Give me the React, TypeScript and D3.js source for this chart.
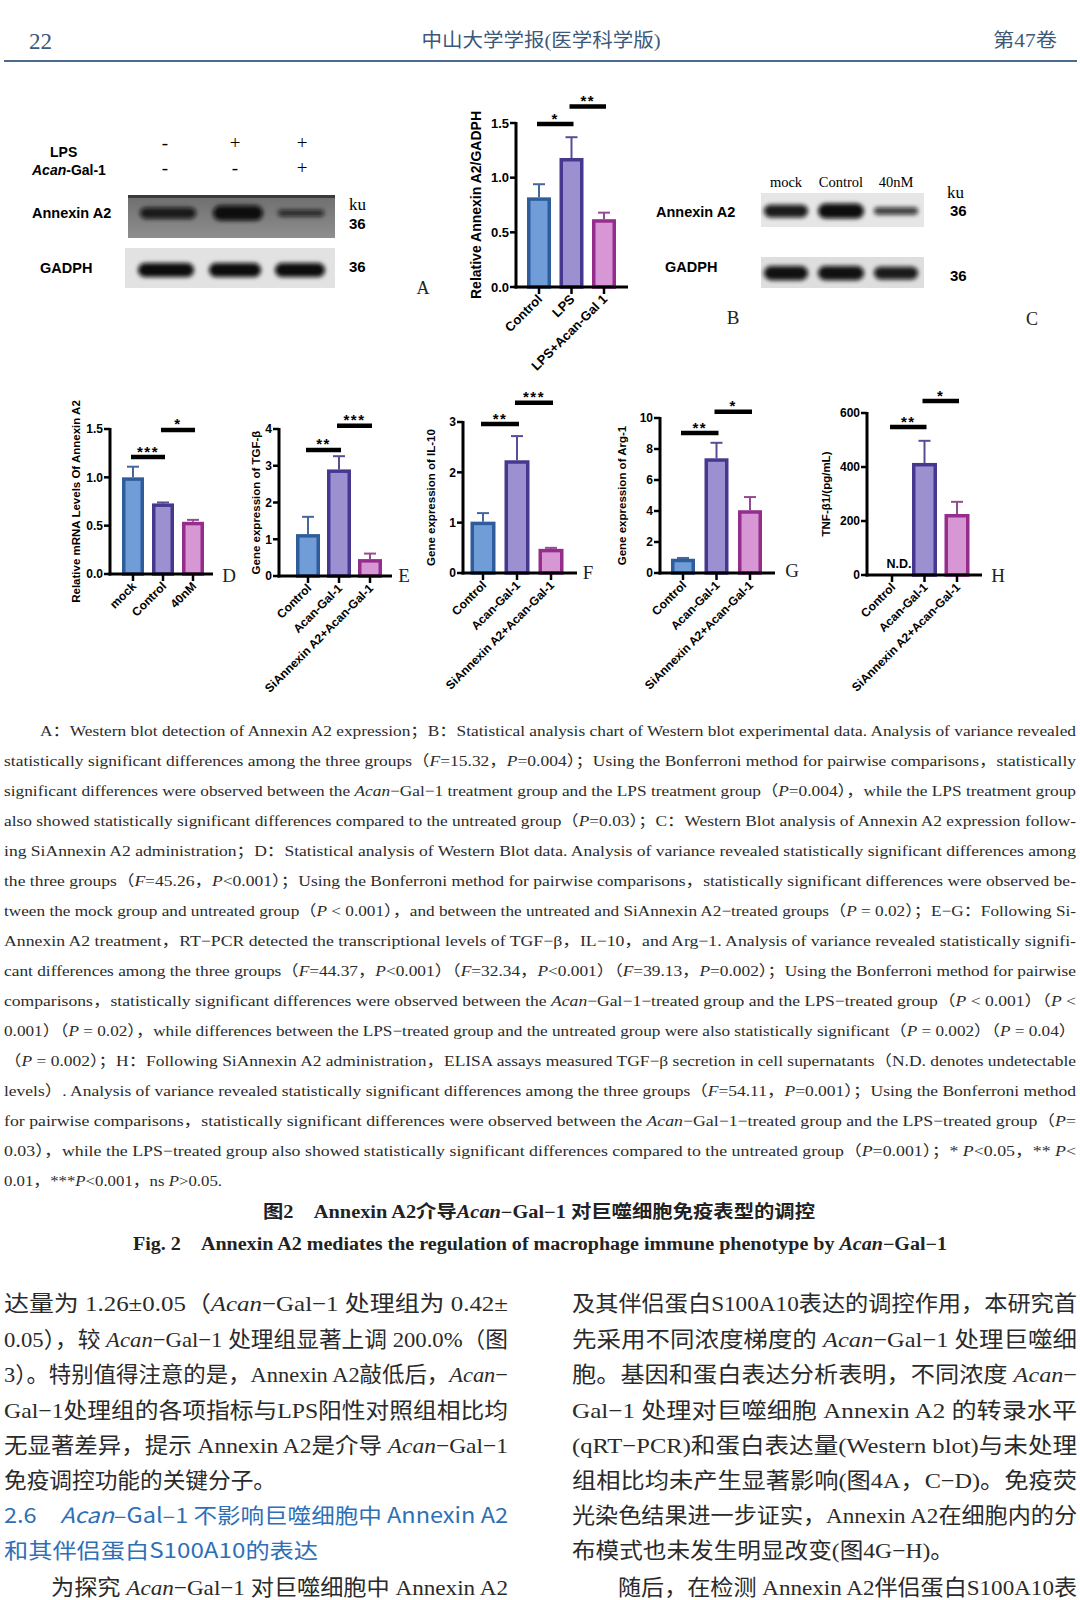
import React from "react";
import * as d3 from "d3";

// ---------------- DATA ----------------
const catsB = ["Control", "LPS", "LPS+Acan-Gal 1"];
const meanB = [0.82, 1.18, 0.62];
const sdB = [0.12, 0.19, 0.06];
const ticksB = [0, 0.5, 1.0, 1.5];
const sigB = [
  { a: 0, b: 1, y: 1.49, label: "*" },
  { a: 1, b: 2, y: 1.65, label: "**" },
];

const catsD = ["mock", "Control", "40nM"];
const meanD = [1.0, 0.73, 0.54];
const sdD = [0.11, 0.01, 0.02];
const ticksD = [0, 0.5, 1.0, 1.5];
const sigD = [
  { a: 0, b: 1, y: 1.21, label: "***" },
  { a: 1, b: 2, y: 1.49, label: "*" },
];

const catsEH = ["Control", "Acan-Gal-1", "SiAnnexin A2+Acan-Gal-1"];

const meanE = [1.14, 2.9, 0.46];
const sdE = [0.47, 0.36, 0.15];
const ticksE = [0, 1, 2, 3, 4];
const sigE = [
  { a: 0, b: 1, y: 3.43, label: "**" },
  { a: 1, b: 2, y: 4.09, label: "***" },
];

const meanF = [1.02, 2.24, 0.48];
const sdF = [0.17, 0.48, 0.02];
const ticksF = [0, 1, 2, 3];
const sigF = [
  { a: 0, b: 1, y: 2.96, label: "**" },
  { a: 1, b: 2, y: 3.38, label: "***" },
];

const meanG = [0.92, 7.4, 4.05];
const sdG = [0.05, 1.0, 0.85];
const ticksG = [0, 2, 4, 6, 8, 10];
const sigG = [
  { a: 0, b: 1, y: 9.03, label: "**" },
  { a: 1, b: 2, y: 10.4, label: "*" },
];

const meanH: (number | null)[] = [null, 415, 226];
const sdH = [0, 82, 45];
const ticksH = [0, 200, 400, 600];
const sigH = [
  { a: 0, b: 1, y: 548, label: "**" },
  { a: 1, b: 2, y: 644, label: "*" },
];

const lpsSigns = ["-", "+", "+"];
const acanSigns = ["-", "-", "+"];
const blotAAnnexin = [0.75, 1.0, 0.45];
const blotAGadph = [1.0, 1.0, 1.0];
const blotCLabels = ["mock", "Control", "40nM"];
const blotCAnnexin = [0.85, 1.0, 0.5];
const blotCGadph = [0.95, 0.95, 0.85];

const captionLines = [
  "A：Western blot detection of Annexin A2 expression；B：Statistical analysis chart of Western blot experimental data. Analysis of variance revealed",
  "statistically significant differences among the three groups（|F|=15.32，|P|=0.004）；Using the Bonferroni method for pairwise comparisons，statistically",
  "significant differences were observed between the |Acan|−Gal−1 treatment group and the LPS treatment group（|P|=0.004），while the LPS treatment group",
  "also showed statistically significant differences compared to the untreated group（|P|=0.03）；C：Western Blot analysis of Annexin A2 expression follow-",
  "ing SiAnnexin A2 administration；D：Statistical analysis of Western Blot data. Analysis of variance revealed statistically significant differences among",
  "the three groups（|F|=45.26，|P|<0.001）；Using the Bonferroni method for pairwise comparisons，statistically significant differences were observed be-",
  "tween the mock group and untreated group（|P| < 0.001），and between the untreated and SiAnnexin A2−treated groups（|P| = 0.02）；E−G：Following Si-",
  "Annexin A2 treatment，RT−PCR detected the transcriptional levels of TGF−β，IL−10，and Arg−1. Analysis of variance revealed statistically signifi-",
  "cant differences among the three groups（|F|=44.37，|P|<0.001）（|F|=32.34，|P|<0.001）（|F|=39.13，|P|=0.002）；Using the Bonferroni method for pairwise",
  "comparisons，statistically significant differences were observed between the |Acan|−Gal−1−treated group and the LPS−treated group（|P| < 0.001）（|P| <",
  "0.001）（|P| = 0.02），while differences between the LPS−treated group and the untreated group were also statistically significant（|P| = 0.002）（|P| = 0.04）",
  "（|P| = 0.002）；H：Following SiAnnexin A2 administration，ELISA assays measured TGF−β secretion in cell supernatants（N.D. denotes undetectable",
  "levels）. Analysis of variance revealed statistically significant differences among the three groups（|F|=54.11，|P|=0.001）；Using the Bonferroni method",
  "for pairwise comparisons，statistically significant differences were observed between the |Acan|−Gal−1−treated group and the LPS−treated group（|P|=",
  "0.03），while the LPS−treated group also showed statistically significant differences compared to the untreated group（|P|=0.001）；* |P|<0.05，** |P|<",
  "0.01，***|P|<0.001，ns |P|>0.05.",
];

const titleCN = "图2　Annexin A2介导|Acan|−Gal−1 对巨噬细胞免疫表型的调控";
const titleEN = "Fig. 2　Annexin A2 mediates the regulation of macrophage immune phenotype by |Acan|−Gal−1";

const leftCol = [
  "达量为 1.26±0.05（|Acan|−Gal−1 处理组为 0.42±",
  "0.05），较 |Acan|−Gal−1 处理组显著上调 200.0%（图",
  "3）。特别值得注意的是，Annexin A2敲低后，|Acan|−",
  "Gal−1处理组的各项指标与LPS阳性对照组相比均",
  "无显著差异，提示 Annexin A2是介导 |Acan|−Gal−1",
  "免疫调控功能的关键分子。",
];
const headingLines = ["2.6　|Acan|–Gal–1 不影响巨噬细胞中 Annexin A2", "和其伴侣蛋白S100A10的表达"];
const leftLast = "为探究 |Acan|−Gal−1 对巨噬细胞中 Annexin A2";
const rightCol = [
  "及其伴侣蛋白S100A10表达的调控作用，本研究首",
  "先采用不同浓度梯度的 |Acan|−Gal−1 处理巨噬细",
  "胞。基因和蛋白表达分析表明，不同浓度 |Acan|−",
  "Gal−1 处理对巨噬细胞 Annexin A2 的转录水平",
  "(qRT−PCR)和蛋白表达量(Western blot)与未处理",
  "组相比均未产生显著影响(图4A，C−D)。免疫荧",
  "光染色结果进一步证实，Annexin A2在细胞内的分",
  "布模式也未发生明显改变(图4G−H)。",
  "随后，在检测 Annexin A2伴侣蛋白S100A10表",
];

// ---------------- STYLES ----------------
const BAR_STYLES = [
  { fill: "#709cd8", stroke: "#2f5d9c", err: "#46679e" },
  { fill: "#9c90d0", stroke: "#47388f", err: "#5a4c98" },
  { fill: "#d796d4", stroke: "#952d8c", err: "#964a92" },
];
const SANS = "Arial, 'Liberation Sans', Helvetica, sans-serif";
const SERIF = "'Liberation Serif', 'Times New Roman', 'Noto Sans CJK SC', serif";
const CJK = "'Liberation Serif', 'Noto Sans CJK SC', serif";

function rich(s: string) {
  return s.split("|").map((p, i) =>
    i % 2 ? (
      <tspan key={i} fontStyle="italic">
        {p}
      </tspan>
    ) : (
      <tspan key={i}>{p}</tspan>
    )
  );
}

type Sig = { a: number; b: number; y: number; label: string };
type Layout = {
  axisX: number; y0: number; y1: number; c0: number; step: number; axisEnd: number;
  bw: number; cap: number; ylabelX: number; tickFs: number; labFs: number; ylFs: number; letter: string; lx: number; ly: number;
};

function BarPanel({ cats, means, sds, sig, yMax, ticks, fmt, ylabel, L, nd }: {
  cats: string[]; means: (number | null)[]; sds: number[]; sig: Sig[]; yMax: number; ticks: number[];
  fmt: (v: number) => string; ylabel: string; L: Layout; nd?: boolean;
}) {
  const y = d3.scaleLinear().domain([0, yMax]).range([L.y0, L.y1]);
  const x = d3.scalePoint<string>().domain(cats).range([L.c0, L.c0 + L.step * (cats.length - 1)]);
  const sw = 3.5;
  return (
    <g>
      {cats.map((c, i) => {
        const m = means[i];
        if (m == null) return null;
        const st = BAR_STYLES[i];
        const cx = x(c)!;
        const top = y(m);
        const et = y(m + sds[i]);
        return (
          <g key={c}>
            <line x1={cx} x2={cx} y1={top} y2={et} stroke={st.err} strokeWidth={2} />
            <line x1={cx - L.cap} x2={cx + L.cap} y1={et} y2={et} stroke={st.err} strokeWidth={2} />
            <rect x={cx - L.bw / 2 + sw / 2} y={top + sw / 2} width={L.bw - sw} height={L.y0 - top - sw / 2}
              fill={st.fill} stroke={st.stroke} strokeWidth={sw} />
          </g>
        );
      })}
      {nd && (
        <text x={x(cats[0])! + 7} y={L.y0 - 7} textAnchor="middle" fontFamily={SANS} fontWeight="bold" fontSize={12.5}>N.D.</text>
      )}
      {/* y axis */}
      <line x1={L.axisX} x2={L.axisX} y1={L.y1 - 1} y2={L.y0 + 1.5} stroke="#000" strokeWidth={3} />
      {ticks.map((t) => (
        <g key={t}>
          <line x1={L.axisX - 6} x2={L.axisX} y1={y(t)} y2={y(t)} stroke="#000" strokeWidth={2.5} />
          <text x={L.axisX - 7} y={y(t)} dy="0.36em" textAnchor="end" fontFamily={SANS} fontWeight="bold" fontSize={L.tickFs}>{fmt(t)}</text>
        </g>
      ))}
      {/* x axis */}
      <line x1={L.axisX - 1.5} x2={L.axisEnd} y1={L.y0} y2={L.y0} stroke="#000" strokeWidth={3} />
      {cats.map((c) => (
        <g key={c}>
          <line x1={x(c)!} x2={x(c)!} y1={L.y0} y2={L.y0 + 7} stroke="#000" strokeWidth={2.5} />
          <text transform={`translate(${x(c)! + 4},${L.y0 + 13}) rotate(-45)`} textAnchor="end" fontFamily={SANS}
            fontWeight="bold" fontSize={L.labFs}>{c}</text>
        </g>
      ))}
      {/* y label */}
      <text transform={`translate(${L.ylabelX},${(L.y0 + L.y1) / 2}) rotate(-90)`} textAnchor="middle" dy="0.35em"
        fontFamily={SANS} fontWeight="bold" fontSize={L.ylFs}>{ylabel}</text>
      {/* significance */}
      {sig.map((s, i) => {
        const xa = x(cats[s.a])! - 2;
        const xb = x(cats[s.b])! + 2;
        return (
          <g key={i}>
            <line x1={xa} x2={xb} y1={y(s.y)} y2={y(s.y)} stroke="#000" strokeWidth={4.5} />
            <text x={(xa + xb) / 2} y={y(s.y) - 0.5} textAnchor="middle" fontFamily={SANS} fontWeight="bold" fontSize={15}
              letterSpacing={1.5}>{s.label}</text>
          </g>
        );
      })}
      <text x={L.lx} y={L.ly} dy="0.35em" textAnchor="middle" fontFamily={SERIF} fontSize={19} fill="#222">{L.letter}</text>
    </g>
  );
}

function Blot({ x, y, w, h, bg, edge, lanes, intens, cy, bh }: {
  x: number; y: number; w: number; h: number; bg: string; edge?: string; lanes: [number, number][]; intens: number[]; cy: number; bh: number;
}) {
  return (
    <g>
      <rect x={x} y={y} width={w} height={h} fill={bg} />
      {edge && <rect x={x} y={y} width={w} height={3} fill={edge} />}
      {lanes.map(([cx, lw], i) => (
        <rect key={i} x={cx - lw / 2} y={cy - (bh * intens[i]) / 2} width={lw} height={bh * intens[i]} rx={(bh * intens[i]) / 2}
          fill="#080808" opacity={0.55 + 0.45 * intens[i]} filter="url(#bandBlur)" />
      ))}
    </g>
  );
}

export default function App() {
  const fmt1 = d3.format(".1f");
  const fmt0 = d3.format("d");
  const laneA: [number, number][] = [[168, 56], [238, 50], [301, 46]];
  const laneAG: [number, number][] = [[166, 56], [235, 52], [300, 50]];
  const laneC: [number, number][] = [[786, 44], [841, 46], [896, 44]];
  const capLine0 = 736;
  const capStep = 30;
  const bodyY = [1311, 1347, 1382, 1418, 1453, 1488, 1523, 1558, 1595];
  const smallL = { tickFs: 12, labFs: 12, ylFs: 11.5 };
  return (
    <svg width={1080} height={1600} viewBox="0 0 1080 1600" style={{ position: "absolute", left: 0, top: 0, background: "#fff" }}>
      <defs>
        <filter id="bandBlur" x="-30%" y="-80%" width="160%" height="260%">
          <feGaussianBlur stdDeviation="2" />
        </filter>
        <linearGradient id="gA" x1="0" y1="0" x2="0" y2="1">
          <stop offset="0" stopColor="#6e6e6e" />
          <stop offset="1" stopColor="#8e8e8e" />
        </linearGradient>
      </defs>
      <rect width={1080} height={1600} fill="#fff" />

      {/* header */}
      <text x={29} y={49} fontFamily={SERIF} fontSize={23} fill="#3d5878">22</text>
      <text x={541} y={47} textAnchor="middle" fontFamily={CJK} fontSize={19} fill="#3d5878" textLength={239} lengthAdjust="spacingAndGlyphs">中山大学学报(医学科学版)</text>
      <text x={1057} y={47} textAnchor="end" fontFamily={CJK} fontSize={19} fill="#3d5878" textLength={64} lengthAdjust="spacingAndGlyphs">第47卷</text>
      <line x1={4} x2={1077} y1={61} y2={61} stroke="#4b6a8c" strokeWidth={2} />

      {/* Panel A */}
      <text x={50} y={157} fontFamily={SANS} fontWeight="bold" fontSize={14}>LPS</text>
      <text x={32} y={175} fontFamily={SANS} fontWeight="bold" fontSize={14}><tspan fontStyle="italic">Acan</tspan>-Gal-1</text>
      {lpsSigns.map((s, i) => (
        <text key={"l" + i} x={[165, 235, 302][i]} y={149} textAnchor="middle" fontFamily={SERIF} fontSize={19}>{s}</text>
      ))}
      {acanSigns.map((s, i) => (
        <text key={"a" + i} x={[165, 235, 302][i]} y={174} textAnchor="middle" fontFamily={SERIF} fontSize={19}>{s}</text>
      ))}
      <Blot x={128} y={195} w={207} h={43} bg="url(#gA)" edge="#3a3a3a" lanes={laneA} intens={blotAAnnexin} cy={213} bh={15} />
      <Blot x={125} y={248} w={210} h={40} bg="#e2e2e2" lanes={laneAG} intens={blotAGadph} cy={270} bh={14} />
      <text x={32} y={218} fontFamily={SANS} fontWeight="bold" fontSize={14.5}>Annexin A2</text>
      <text x={40} y={273} fontFamily={SANS} fontWeight="bold" fontSize={14.5}>GADPH</text>
      <text x={349} y={210} fontFamily={SERIF} fontSize={17}>ku</text>
      <text x={349} y={229} fontFamily={SANS} fontWeight="bold" fontSize={15}>36</text>
      <text x={349} y={272} fontFamily={SANS} fontWeight="bold" fontSize={15}>36</text>
      <text x={423} y={294} textAnchor="middle" fontFamily={SERIF} fontSize={18} fill="#222">A</text>

      {/* Panel B */}
      <BarPanel cats={catsB} means={meanB} sds={sdB} sig={sigB} yMax={1.5} ticks={ticksB} fmt={fmt1}
        ylabel="Relative Annexin A2/GADPH"
        L={{ axisX: 516, y0: 287, y1: 123, c0: 539, step: 32.5, axisEnd: 628, bw: 24, cap: 6, ylabelX: 476, tickFs: 13, labFs: 13, ylFs: 14, letter: "B", lx: 733, ly: 317 }} />

      {/* Panel C */}
      {blotCLabels.map((s, i) => (
        <text key={s} x={laneC[i][0]} y={187} textAnchor="middle" fontFamily={SERIF} fontSize={14.5}>{s}</text>
      ))}
      <Blot x={761} y={193} w={163} h={34} bg="#e6e6e6" lanes={laneC} intens={blotCAnnexin} cy={211} bh={15} />
      <Blot x={761} y={257} w={163} h={31} bg="#dedede" lanes={laneC} intens={blotCGadph} cy={273} bh={15} />
      <text x={656} y={217} fontFamily={SANS} fontWeight="bold" fontSize={14.5}>Annexin A2</text>
      <text x={665} y={272} fontFamily={SANS} fontWeight="bold" fontSize={14.5}>GADPH</text>
      <text x={947} y={198} fontFamily={SERIF} fontSize={17}>ku</text>
      <text x={950} y={216} fontFamily={SANS} fontWeight="bold" fontSize={15}>36</text>
      <text x={950} y={281} fontFamily={SANS} fontWeight="bold" fontSize={15}>36</text>
      <text x={1032} y={325} textAnchor="middle" fontFamily={SERIF} fontSize={18} fill="#222">C</text>

      {/* Panels D-H */}
      <BarPanel cats={catsD} means={meanD} sds={sdD} sig={sigD} yMax={1.5} ticks={ticksD} fmt={fmt1}
        ylabel="Relative mRNA Levels Of Annexin A2"
        L={{ axisX: 110, y0: 574, y1: 429, c0: 133, step: 30, axisEnd: 213, bw: 22, cap: 6, ylabelX: 76, ...smallL, letter: "D", lx: 229, ly: 575 }} />
      <BarPanel cats={catsEH} means={meanE} sds={sdE} sig={sigE} yMax={4} ticks={ticksE} fmt={fmt0}
        ylabel="Gene expression of TGF-β"
        L={{ axisX: 279, y0: 576, y1: 429, c0: 308, step: 31, axisEnd: 392, bw: 24, cap: 6, ylabelX: 256, ...smallL, letter: "E", lx: 404, ly: 575 }} />
      <BarPanel cats={catsEH} means={meanF} sds={sdF} sig={sigF} yMax={3} ticks={ticksF} fmt={fmt0}
        ylabel="Gene expression of IL-10"
        L={{ axisX: 463, y0: 573, y1: 422, c0: 483, step: 34, axisEnd: 577, bw: 25, cap: 6, ylabelX: 431, ...smallL, letter: "F", lx: 588, ly: 572 }} />
      <BarPanel cats={catsEH} means={meanG} sds={sdG} sig={sigG} yMax={10} ticks={ticksG} fmt={fmt0}
        ylabel="Gene expression of Arg-1"
        L={{ axisX: 660, y0: 573, y1: 418, c0: 683, step: 33.5, axisEnd: 775, bw: 24, cap: 6, ylabelX: 622, ...smallL, letter: "G", lx: 792, ly: 570 }} />
      <BarPanel cats={catsEH} means={meanH} sds={sdH} sig={sigH} yMax={600} ticks={ticksH} fmt={fmt0} nd
        ylabel="TNF-β1/(pg/mL)"
        L={{ axisX: 867, y0: 575, y1: 413, c0: 892, step: 32.5, axisEnd: 982, bw: 25, cap: 6, ylabelX: 826, ...smallL, letter: "H", lx: 998, ly: 575 }} />

      {/* caption */}
      {captionLines.map((ln, i) => {
        const x0 = i === 0 ? 40 : 4;
        const last = i === captionLines.length - 1;
        return (
          <text key={i} x={x0} y={capLine0 + capStep * i} fontFamily={SERIF} fontSize={15} fill="#2b2b2b"
            textLength={last ? 218 : 1076 - x0} lengthAdjust="spacingAndGlyphs">
            {rich(ln)}
          </text>
        );
      })}
      <text x={539} y={1218} textAnchor="middle" fontFamily={CJK} fontWeight="bold" fontSize={18} fill="#222"
        textLength={552} lengthAdjust="spacingAndGlyphs">{rich(titleCN)}</text>
      <text x={540} y={1250} textAnchor="middle" fontFamily={SERIF} fontWeight="bold" fontSize={18} fill="#222"
        textLength={814} lengthAdjust="spacingAndGlyphs">{rich(titleEN)}</text>

      {/* body left */}
      {leftCol.map((ln, i) => (
        <text key={i} x={4} y={bodyY[i]} fontFamily={CJK} fontSize={22} fill="#2a2a2a"
          textLength={i === 5 ? 272 : 504} lengthAdjust="spacingAndGlyphs">{rich(ln)}</text>
      ))}
      {headingLines.map((ln, i) => (
        <text key={"h" + i} x={4} y={bodyY[6 + i]} fontFamily={"'Noto Sans CJK SC', Arial, sans-serif"} fontSize={21} fill="#2f6fb6"
          textLength={i === 0 ? 504 : 314} lengthAdjust="spacingAndGlyphs">{rich(ln)}</text>
      ))}
      <text x={51} y={bodyY[8]} fontFamily={CJK} fontSize={22} fill="#2a2a2a" textLength={457} lengthAdjust="spacingAndGlyphs">{rich(leftLast)}</text>

      {/* body right */}
      {rightCol.map((ln, i) => {
        const x0 = i === 8 ? 618 : 572;
        const len = i === 7 ? 382 : 1077 - x0;
        return (
          <text key={"r" + i} x={x0} y={bodyY[i]} fontFamily={CJK} fontSize={22} fill="#2a2a2a"
            textLength={len} lengthAdjust="spacingAndGlyphs">{rich(ln)}</text>
        );
      })}
    </svg>
  );
}
